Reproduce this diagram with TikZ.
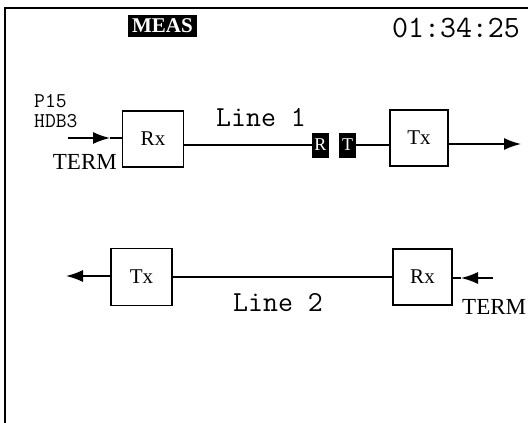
\documentclass[tikz,border=0pt]{standalone}
\usepackage{fontspec}
\setmainfont{Liberation Serif}
\usetikzlibrary{arrows.meta}
\begin{document}
\begin{tikzpicture}[x=1pt, y=-1pt, box_style/.style={draw=black, line width=1.6pt, minimum width=60pt, minimum height=56pt, inner sep=0pt, font=\fontsize{21}{21}\selectfont}, tag_style/.style={fill=black, text=white, minimum width=17pt, minimum height=25pt, inner sep=0pt, font=\fontsize{18}{18}\selectfont}, mono_style/.style={inner sep=0pt, font=\ttfamily\fontsize{29}{29}\selectfont}, term_style/.style={inner sep=0pt, font=\fontsize{23}{23}\selectfont}, edge_style/.style={draw=black, line width=1.5pt}, arrow_style/.style={draw=black, line width=1.5pt, -{Latex[length=17pt,width=12pt]}}]
      \useasboundingbox (0,0) rectangle (528,423);
      % frame
      \draw[line width=1.4pt] (5,423) -- (5,8) -- (528,8);
      \draw
        (162.5,26) node[fill=black, text=white, minimum width=69pt, minimum height=22pt, inner sep=0pt, font=\bfseries\fontsize{21}{21}\selectfont] (meas){MEAS}
        (456,28) node[mono_style, font=\ttfamily\fontsize{31}{31}\selectfont] (clock){01:34:25}
        (34,101) node[anchor=west, inner sep=0pt, font=\ttfamily\fontsize{21}{21}\selectfont] (p15){P15}
        (34,121) node[anchor=west, inner sep=0pt, font=\ttfamily\fontsize{21}{21}\selectfont] (hdb3){HDB3}
        (117,162) node[term_style, anchor=east] (term1){TERM}
        (261,118) node[mono_style] (line1){Line 1}
        (153,139) node[box_style, minimum width=61pt] (rx1){Rx}
        (419,138) node[box_style, minimum width=58pt] (tx1){Tx}
        (320.5,145) node[tag_style] (rtag){R}
        (347.5,145) node[tag_style] (ttag){T}
        (141.5,277) node[box_style, minimum width=61pt, minimum height=57pt] (tx2){Tx}
        (422.5,277) node[box_style, minimum width=59pt] (rx2){Rx}
        (462,307) node[term_style, anchor=west] (term2){TERM}
        (278,303) node[mono_style] (line2){Line 2};
      \coordinate (in1) at (68,138);
      \coordinate (in1_tip) at (110,138);
      \coordinate (out1) at (521,144);
      \coordinate (in2) at (493,278);
      \coordinate (in2_tip) at (461,278);
      \coordinate (out2) at (66,276);
      \begin{scope}[-]
        \draw[arrow_style] (in1) -- (in1_tip);
        \draw[edge_style] (in1_tip) -- (rx1.west |- in1_tip);
        \draw[edge_style] (rx1.east |- rtag.west) -- (rtag.west);
        \draw[edge_style] (ttag.east) -- (tx1.west |- ttag.east);
        \draw[arrow_style] (tx1.east |- out1) -- (out1);
        \draw[arrow_style] (in2) -- (in2_tip);
        \draw[edge_style] (in2_tip) -- (rx2.east |- in2_tip);
        \draw[edge_style] (rx2.west) -- (tx2.east);
        \draw[arrow_style] (tx2.west |- out2) -- (out2);
      \end{scope}
    \end{tikzpicture}
\end{document}
